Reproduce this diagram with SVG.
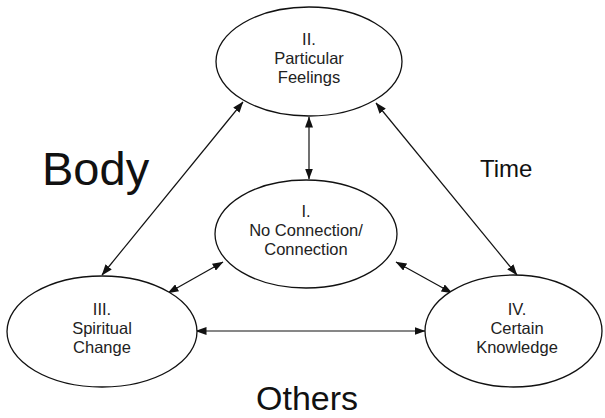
<svg xmlns="http://www.w3.org/2000/svg" width="605" height="418" viewBox="0 0 605 418">
<defs>
<marker id="ah" viewBox="0 0 11 8" refX="10.5" refY="4" markerWidth="11" markerHeight="8" markerUnits="userSpaceOnUse" orient="auto-start-reverse">
<path d="M0,0 L11,4 L0,8 z" fill="#111"/>
</marker>
<style>
.node ellipse{fill:#fff;stroke:#111;stroke-width:1.3}
.node text{font-family:"Liberation Sans",Arial,sans-serif;font-size:16.5px;fill:#222;text-anchor:middle}
.conn line{stroke:#111;stroke-width:1.2;marker-start:url(#ah);marker-end:url(#ah)}
.big{font-family:"Liberation Sans",Arial,sans-serif;fill:#111}
</style>
</defs>
<rect width="605" height="418" fill="#fff"/>
<g id="connectors" class="conn">
<line x1="309" y1="117" x2="309" y2="179"/>
<line x1="243" y1="102" x2="102" y2="275"/>
<line x1="376" y1="103" x2="517" y2="275"/>
<line x1="223" y1="262" x2="168" y2="293"/>
<line x1="396" y1="262" x2="452" y2="293"/>
<line x1="196" y1="331" x2="425" y2="331"/>
</g>
<g id="node-II" class="node">
<ellipse cx="309" cy="61.5" rx="93" ry="54.5"/>
<text x="309" y="45">II.</text>
<text x="309" y="64">Particular</text>
<text x="309" y="83">Feelings</text>
</g>
<g id="node-I" class="node">
<ellipse cx="306" cy="234" rx="91" ry="54"/>
<text x="306" y="217">I.</text>
<text x="306" y="236">No Connection/</text>
<text x="306" y="255">Connection</text>
</g>
<g id="node-III" class="node">
<ellipse cx="102" cy="331.5" rx="95" ry="55.5"/>
<text x="102" y="315">III.</text>
<text x="102" y="334">Spiritual</text>
<text x="102" y="353">Change</text>
</g>
<g id="node-IV" class="node">
<ellipse cx="513.5" cy="331" rx="88.5" ry="56"/>
<text x="517" y="315">IV.</text>
<text x="517" y="334">Certain</text>
<text x="517" y="353">Knowledge</text>
</g>
<g id="labels">
<text class="big" x="42" y="185" font-size="47">Body</text>
<text class="big" x="480" y="177" font-size="24">Time</text>
<text class="big" x="256" y="410" font-size="34">Others</text>
</g>
</svg>
